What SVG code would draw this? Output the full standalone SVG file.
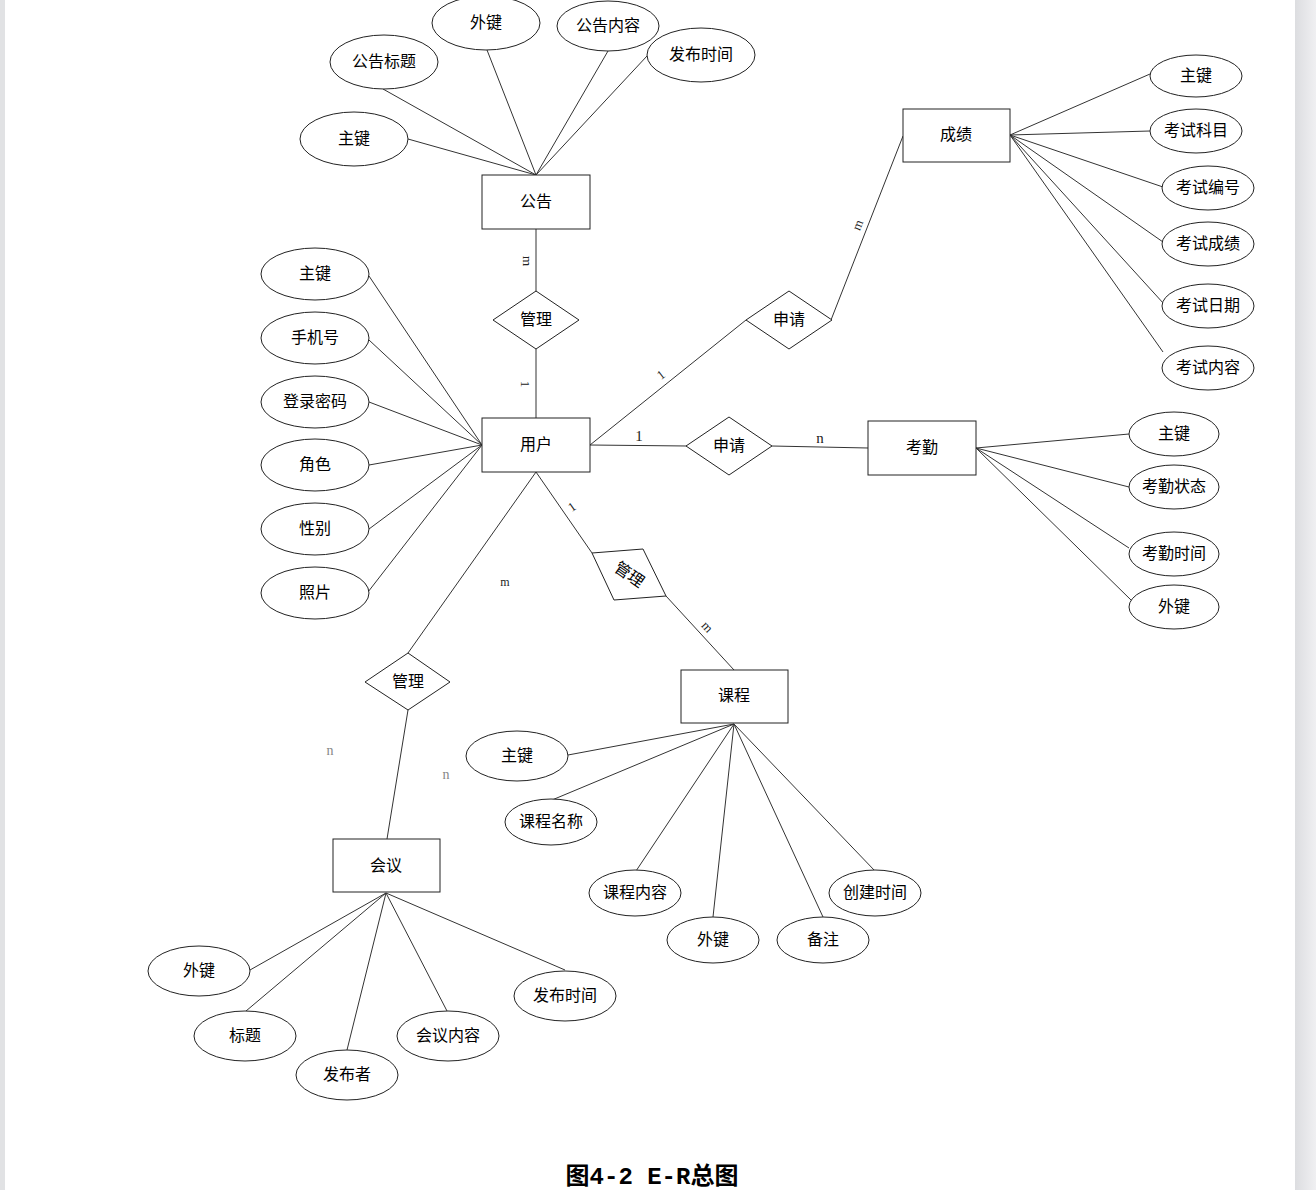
<svg xmlns="http://www.w3.org/2000/svg" width="1316" height="1190" viewBox="0 0 1316 1190">
<defs>
<linearGradient id="rg" x1="0" y1="0" x2="1" y2="0">
<stop offset="0" stop-color="#dcdde0"/>
<stop offset="1" stop-color="#f0f0f2"/>
</linearGradient>
<style>
.bg{fill:#fff}
.ent{fill:#fff;stroke:#222;stroke-width:1}
.attr{fill:#fff;stroke:#222;stroke-width:1}
.rel{fill:#fff;stroke:#222;stroke-width:1}
.cn line,.cn polyline{stroke:#333;stroke-width:1;fill:none}
text{font-family:"Noto Sans CJK SC","Liberation Sans",sans-serif;font-size:16px;fill:#000;text-anchor:middle}
.card{font-family:"Liberation Serif","Noto Sans CJK SC",serif;font-size:13px;fill:#222}
.cardg{font-family:"Liberation Serif","Noto Sans CJK SC",serif;font-size:14px;fill:#888}
.cap{font-family:"Liberation Mono","Noto Sans CJK SC",monospace;font-size:24px;font-weight:bold}
</style>
</defs>
<rect x="0" y="0" width="1316" height="1190" class="bg"/>
<rect x="0" y="0" width="5" height="1190" fill="#e1e2e4"/>
<rect x="1295" y="0" width="21" height="1190" fill="url(#rg)"/>

<g id="connectors" class="cn">
<line x1="408" y1="139" x2="536" y2="175"/>
<line x1="383" y1="89" x2="536" y2="175"/>
<line x1="487" y1="50" x2="536" y2="175"/>
<line x1="608" y1="51" x2="536" y2="175"/>
<line x1="647" y1="56" x2="536" y2="175"/>
<line x1="536" y1="229" x2="536" y2="292"/>
<line x1="536" y1="349" x2="536" y2="418"/>
<line x1="369" y1="276" x2="482" y2="445"/>
<line x1="369" y1="340" x2="482" y2="445"/>
<line x1="369" y1="402" x2="482" y2="445"/>
<line x1="369" y1="465" x2="482" y2="445"/>
<line x1="369" y1="529" x2="482" y2="445"/>
<line x1="368" y1="592" x2="482" y2="445"/>
<line x1="590" y1="445" x2="746" y2="320"/>
<line x1="831" y1="320" x2="903" y2="136"/>
<line x1="1010" y1="135" x2="1150" y2="74"/>
<line x1="1010" y1="135" x2="1150" y2="131"/>
<line x1="1010" y1="135" x2="1163" y2="187"/>
<line x1="1010" y1="135" x2="1163" y2="242"/>
<line x1="1010" y1="135" x2="1164" y2="304"/>
<line x1="1010" y1="135" x2="1163" y2="352"/>
<line x1="590" y1="445" x2="687" y2="446"/>
<line x1="772" y1="446" x2="868" y2="448"/>
<line x1="976" y1="448" x2="1129" y2="434"/>
<line x1="976" y1="448" x2="1129" y2="487"/>
<line x1="976" y1="448" x2="1129" y2="548"/>
<line x1="976" y1="448" x2="1131" y2="600"/>
<line x1="536" y1="472" x2="592" y2="553"/>
<line x1="666" y1="596" x2="734" y2="670"/>
<line x1="734" y1="724" x2="568" y2="755"/>
<line x1="734" y1="724" x2="552" y2="800"/>
<line x1="734" y1="724" x2="636" y2="871"/>
<line x1="734" y1="724" x2="713" y2="917"/>
<line x1="734" y1="724" x2="823" y2="917"/>
<line x1="734" y1="724" x2="875" y2="871"/>
<line x1="536" y1="472" x2="408" y2="653"/>
<line x1="408" y1="710" x2="387" y2="839"/>
<line x1="386" y1="893" x2="250" y2="970"/>
<line x1="386" y1="893" x2="246" y2="1011"/>
<line x1="386" y1="893" x2="347" y2="1050"/>
<line x1="386" y1="893" x2="447" y2="1011"/>
<line x1="386" y1="893" x2="565" y2="970"/>
</g>

<g id="cardinalities">
<text class="card" transform="translate(527,261) rotate(90)" dy="4">m</text>
<text class="card" transform="translate(525,384) rotate(90)" dy="4">1</text>
<text class="card" transform="translate(661,375) rotate(-38)" dy="4">1</text>
<text class="card" transform="translate(858,225) rotate(-68)" dy="4">m</text>
<text class="card" x="639" y="441" style="font-size:15px">1</text>
<text class="card" x="820" y="443" style="font-size:15px">n</text>
<text class="card" transform="translate(572,507) rotate(-35)" dy="4">1</text>
<text class="card" transform="translate(707,627) rotate(48)" dy="4">m</text>
<text class="card" x="505" y="586" style="font-size:12px">m</text>
<text class="cardg" x="330" y="755">n</text>
<text class="cardg" x="446" y="779">n</text>
</g>

<g id="gonggao"><rect class="ent" x="482" y="175" width="108" height="54"/><text x="536" y="207">公告</text></g>
<g id="gonggao-zhujian"><ellipse class="attr" cx="354" cy="139" rx="54" ry="27"/><text x="354" y="144">主键</text></g>
<g id="gonggao-biaoti"><ellipse class="attr" cx="384" cy="62" rx="54" ry="27"/><text x="384" y="67">公告标题</text></g>
<g id="gonggao-waijian"><ellipse class="attr" cx="486" cy="23" rx="54" ry="27"/><text x="486" y="28">外键</text></g>
<g id="gonggao-neirong"><ellipse class="attr" cx="608" cy="26" rx="51" ry="25"/><text x="608" y="31">公告内容</text></g>
<g id="gonggao-shijian"><ellipse class="attr" cx="701" cy="55" rx="54" ry="27"/><text x="701" y="60">发布时间</text></g>

<g id="rel-guanli-gonggao"><polygon class="rel" points="536,291 579,320 536,349 493,320"/><text x="536" y="325">管理</text></g>

<g id="yonghu"><rect class="ent" x="482" y="418" width="108" height="54"/><text x="536" y="450">用户</text></g>
<g id="yonghu-zhujian"><ellipse class="attr" cx="315" cy="274" rx="54" ry="26"/><text x="315" y="279">主键</text></g>
<g id="yonghu-shouji"><ellipse class="attr" cx="315" cy="338" rx="54" ry="26"/><text x="315" y="343">手机号</text></g>
<g id="yonghu-mima"><ellipse class="attr" cx="315" cy="402" rx="54" ry="26"/><text x="315" y="407">登录密码</text></g>
<g id="yonghu-juese"><ellipse class="attr" cx="315" cy="465" rx="54" ry="26"/><text x="315" y="470">角色</text></g>
<g id="yonghu-xingbie"><ellipse class="attr" cx="315" cy="529" rx="54" ry="26"/><text x="315" y="534">性别</text></g>
<g id="yonghu-zhaopian"><ellipse class="attr" cx="315" cy="593" rx="54" ry="26"/><text x="315" y="598">照片</text></g>

<g id="rel-shenqing-chengji"><polygon class="rel" points="789,291 832,320 789,349 746,320"/><text x="789" y="325">申请</text></g>
<g id="chengji"><rect class="ent" x="903" y="109" width="107" height="53"/><text x="956" y="140">成绩</text></g>
<g id="chengji-zhujian"><ellipse class="attr" cx="1196" cy="76" rx="46" ry="21"/><text x="1196" y="81">主键</text></g>
<g id="chengji-kemu"><ellipse class="attr" cx="1196" cy="131" rx="46" ry="22"/><text x="1196" y="136">考试科目</text></g>
<g id="chengji-bianhao"><ellipse class="attr" cx="1208" cy="188" rx="46" ry="22"/><text x="1208" y="193">考试编号</text></g>
<g id="chengji-chengji"><ellipse class="attr" cx="1208" cy="244" rx="46" ry="22"/><text x="1208" y="249">考试成绩</text></g>
<g id="chengji-riqi"><ellipse class="attr" cx="1208" cy="306" rx="46" ry="22"/><text x="1208" y="311">考试日期</text></g>
<g id="chengji-neirong"><ellipse class="attr" cx="1208" cy="368" rx="46" ry="22"/><text x="1208" y="373">考试内容</text></g>

<g id="rel-shenqing-kaoqin"><polygon class="rel" points="729,417 772,446 729,475 686,446"/><text x="729" y="451">申请</text></g>
<g id="kaoqin"><rect class="ent" x="868" y="421" width="108" height="54"/><text x="922" y="453">考勤</text></g>
<g id="kaoqin-zhujian"><ellipse class="attr" cx="1174" cy="434" rx="45" ry="22"/><text x="1174" y="439">主键</text></g>
<g id="kaoqin-zhuangtai"><ellipse class="attr" cx="1174" cy="487" rx="45" ry="22"/><text x="1174" y="492">考勤状态</text></g>
<g id="kaoqin-shijian"><ellipse class="attr" cx="1174" cy="554" rx="45" ry="22"/><text x="1174" y="559">考勤时间</text></g>
<g id="kaoqin-waijian"><ellipse class="attr" cx="1174" cy="607" rx="45" ry="22"/><text x="1174" y="612">外键</text></g>

<g id="rel-guanli-kecheng"><polygon class="rel" points="592,553 643,549 666,596 614,600"/><text transform="translate(629,575) rotate(35)" dy="5">管理</text></g>
<g id="kecheng"><rect class="ent" x="681" y="670" width="107" height="53"/><text x="734" y="701">课程</text></g>
<g id="kecheng-zhujian"><ellipse class="attr" cx="517" cy="756" rx="51" ry="25"/><text x="517" y="761">主键</text></g>
<g id="kecheng-mingcheng"><ellipse class="attr" cx="551" cy="822" rx="46" ry="23"/><text x="551" y="827">课程名称</text></g>
<g id="kecheng-neirong"><ellipse class="attr" cx="635" cy="893" rx="46" ry="23"/><text x="635" y="898">课程内容</text></g>
<g id="kecheng-waijian"><ellipse class="attr" cx="713" cy="940" rx="46" ry="23"/><text x="713" y="945">外键</text></g>
<g id="kecheng-beizhu"><ellipse class="attr" cx="823" cy="940" rx="46" ry="23"/><text x="823" y="945">备注</text></g>
<g id="kecheng-chuangjian"><ellipse class="attr" cx="875" cy="893" rx="46" ry="23"/><text x="875" y="898">创建时间</text></g>

<g id="rel-guanli-huiyi"><polygon class="rel" points="408,653 450,682 408,710 365,682"/><text x="408" y="687">管理</text></g>
<g id="huiyi"><rect class="ent" x="333" y="839" width="107" height="53"/><text x="386" y="871">会议</text></g>
<g id="huiyi-waijian"><ellipse class="attr" cx="199" cy="971" rx="51" ry="25"/><text x="199" y="976">外键</text></g>
<g id="huiyi-biaoti"><ellipse class="attr" cx="245" cy="1036" rx="51" ry="25"/><text x="245" y="1041">标题</text></g>
<g id="huiyi-fabuzhe"><ellipse class="attr" cx="347" cy="1075" rx="51" ry="25"/><text x="347" y="1080">发布者</text></g>
<g id="huiyi-neirong"><ellipse class="attr" cx="448" cy="1036" rx="51" ry="25"/><text x="448" y="1041">会议内容</text></g>
<g id="huiyi-shijian"><ellipse class="attr" cx="565" cy="996" rx="51" ry="25"/><text x="565" y="1001">发布时间</text></g>

<text class="cap" x="652" y="1184">图4-2 E-R总图</text>
</svg>
